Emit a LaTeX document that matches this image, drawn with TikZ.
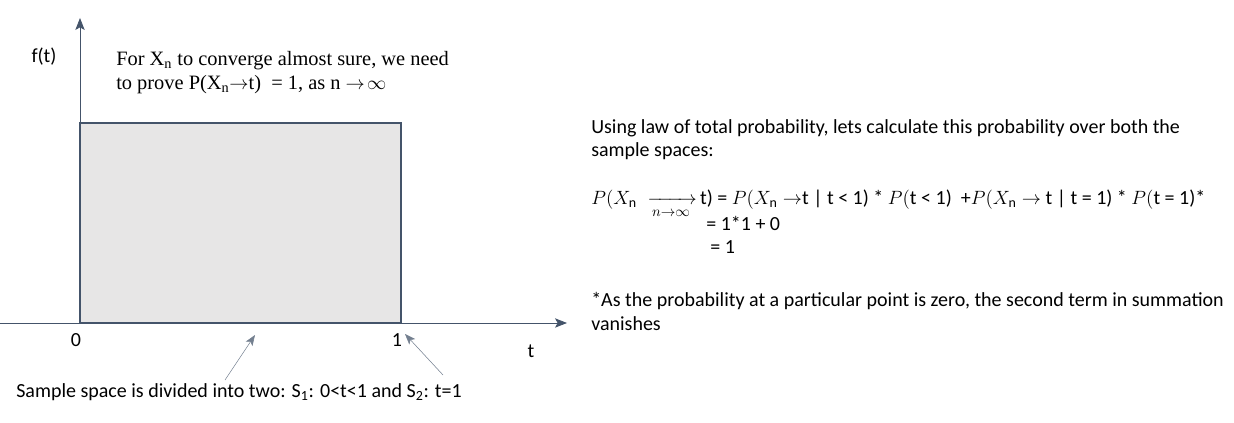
\documentclass[tikz,border=0pt]{standalone}
\usepackage{amsmath}
\usepackage{fontspec}
\setmainfont{Carlito}
\newfontfamily\serifnote{Liberation Serif}
\usetikzlibrary{arrows.meta}
\definecolor{axisblue}{HTML}{44546A}
\definecolor{boxgray}{HTML}{E7E6E6}
\tikzset{
	axis/.style={-{Stealth[length=9pt,width=7pt,inset=2pt]},draw=axisblue,semithick},
	pointer/.style={-{Stealth[length=8pt,width=6pt,inset=2pt]},draw=axisblue!75,thin},
	body/.style={anchor=base west,inner sep=0pt,font=\fontsize{15}{18}\selectfont},
	note/.style={anchor=base west,inner sep=0pt,font=\serifnote\fontsize{15.3}{18}\selectfont},
	tick/.style={inner sep=0pt,font=\fontsize{15}{18}\selectfont}
}
\begin{document}
\begin{tikzpicture}[x=0.75pt,y=-0.75pt]
	\useasboundingbox (0,0) rectangle (1234,423);
	
	%axes
	\coordinate (xstart) at (0,323);
	\coordinate (xtip)   at (567,323);
	\coordinate (origin) at (80,323);
	\coordinate (ytip)   at (80,18);
	\draw[axis] (xstart)--(xtip);		%t axis
	\draw[axis] (origin)--(ytip);		%f(t) axis
	
	%density box
	\filldraw[fill=boxgray,draw=axisblue,line width=1.5pt] (origin) rectangle (401,123);
	
	%axis labels
	\node[tick] (ft)   at (44,57)  {f(t)};
	\node[tick] (zero) at (76,340) {0};
	\node[tick] (one)  at (397,340){1};
	\node[tick] (tlab) at (531,351){t};
	
	%goal text
	\node[note] (goalA) at (116,66) {For X\textsubscript{n} to converge almost sure, we need};
	\node[note] (goalB) at (116,90) {to prove P(X\textsubscript{n}$\rightarrow$t) \ = 1, as n $\rightarrow\!\infty$};
	
	%sample space note
	\node[body] (split) at (16,398) {Sample space is divided into two: S\textsubscript{1}: 0<t<1 and S\textsubscript{2}: t=1};
	\coordinate (s1foot) at (225,380);
	\coordinate (s1tip)  at (255,335);
	\coordinate (s2foot) at (443,375);
	\coordinate (s2tip)  at (405,334);
	\draw[pointer] (s1foot)--(s1tip);	%S1
	\draw[pointer] (s2foot)--(s2tip);	%S2
	
	%right hand text
	\node[body] (lawA) at (591,134) {Using law of total probability, lets calculate this probability over both the};
	\node[body] (lawB) at (591,157) {sample spaces:};
	\node[body] (sumA) at (591,205) {$P(X_\mathrm{n}\;\xrightarrow[n\to\infty]{}\,$t) = $P(X_\mathrm{n}\to$t | t < 1) * $P($t < 1) \ +$P(X_\mathrm{n}\to$ t | t = 1) * $P($t = 1)*};
	\node[body] (sumB) at (706,231) {= 1*1 + 0};
	\node[body] (sumC) at (710,254) {= 1};
	\node[body] (zeroA) at (591,307) {*As the probability at a particular point is zero, the second term in summation};
	\node[body] (zeroB) at (591,331) {vanishes};
	
	%\draw[help lines,step=50] (0,0) grid (1234,423);
\end{tikzpicture}
\end{document}
